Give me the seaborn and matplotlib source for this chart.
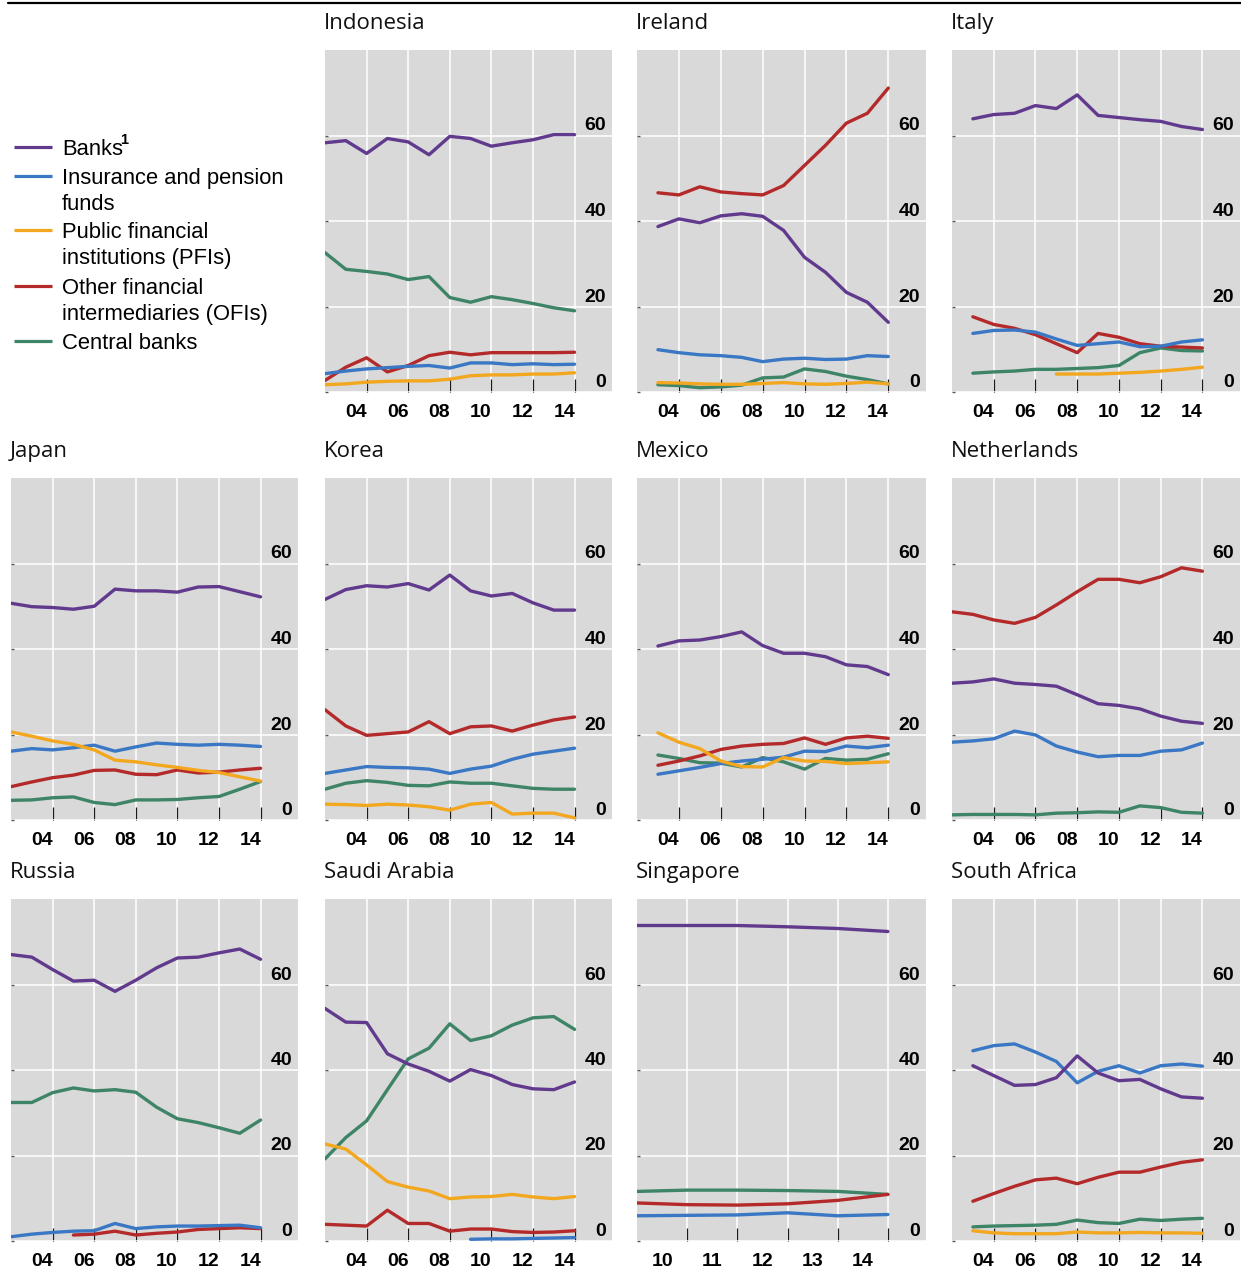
import matplotlib
matplotlib.use("Agg")
import matplotlib.pyplot as plt
import matplotlib.transforms as mtransforms
from matplotlib.lines import Line2D
import pandas as pd
import seaborn as sns

# ---------------------------------------------------------------------------
# Sector names and colours
# ---------------------------------------------------------------------------
BANKS = "Banks"
INS = "Insurance and pension funds"
PFI = "Public financial institutions (PFIs)"
OFI = "Other financial intermediaries (OFIs)"
CB = "Central banks"

PALETTE = {
    BANKS: "#613A8E",
    INS: "#3A77C4",
    PFI: "#F2A71E",
    OFI: "#B42A2A",
    CB: "#3E8466",
}

# ---------------------------------------------------------------------------
# Shares of total financial assets, in per cent (year-end)
# ---------------------------------------------------------------------------
YEARS_02 = list(range(2002, 2015))
YEARS_03 = list(range(2003, 2015))
YEARS_09 = list(range(2009, 2015))

indonesia = {
    BANKS: [58.3, 58.8, 55.8, 59.3, 58.5, 55.5, 59.8, 59.3, 57.5, 58.3, 59.0, 60.2, 60.2],
    INS:   [4.3, 4.9, 5.4, 5.7, 6.0, 6.2, 5.6, 6.8, 6.8, 6.4, 6.6, 6.4, 6.5],
    PFI:   [1.7, 1.9, 2.3, 2.5, 2.6, 2.6, 3.0, 3.8, 4.0, 4.0, 4.2, 4.2, 4.5],
    OFI:   [2.7, 5.8, 8.0, 4.7, 6.2, 8.5, 9.3, 8.7, 9.2, 9.2, 9.2, 9.2, 9.3],
    CB:    [32.6, 28.7, 28.2, 27.6, 26.3, 27.0, 22.1, 21.0, 22.3, 21.6, 20.7, 19.7, 19.0],
}

ireland = {
    BANKS: [38.7, 40.5, 39.6, 41.2, 41.7, 41.1, 37.8, 31.5, 28.0, 23.3, 21.0, 16.3],
    INS:   [9.9, 9.2, 8.7, 8.5, 8.1, 7.1, 7.7, 7.9, 7.6, 7.7, 8.5, 8.3],
    PFI:   [2.2, 2.1, 1.9, 1.8, 1.8, 2.0, 2.2, 1.9, 1.8, 2.0, 2.3, 1.9],
    OFI:   [46.6, 46.1, 48.0, 46.8, 46.4, 46.1, 48.3, 53.0, 57.7, 62.9, 65.2, 71.1],
    CB:    [1.7, 1.5, 1.0, 1.2, 1.6, 3.3, 3.5, 5.4, 4.8, 3.7, 2.9, 1.9],
}

italy = {
    BANKS: [63.9, 64.9, 65.2, 67.0, 66.3, 69.5, 64.7, 64.2, 63.7, 63.3, 62.1, 61.4],
    INS:   [13.7, 14.4, 14.5, 14.0, 12.4, 10.9, 11.3, 11.7, 10.6, 10.7, 11.7, 12.2],
    PFI:   [None, None, None, None, 4.2, 4.2, 4.2, 4.4, 4.6, 4.9, 5.3, 5.8],
    OFI:   [17.6, 15.8, 14.9, 13.4, 11.3, 9.2, 13.7, 12.8, 11.3, 10.7, 10.5, 10.3],
    CB:    [4.4, 4.7, 4.9, 5.3, 5.3, 5.5, 5.7, 6.2, 9.2, 10.3, 9.7, 9.6],
}

japan = {
    BANKS: [50.7, 49.9, 49.7, 49.3, 50.0, 54.0, 53.6, 53.6, 53.3, 54.5, 54.6, 53.4, 52.2],
    INS:   [16.1, 16.7, 16.4, 16.9, 17.5, 16.1, 17.1, 18.0, 17.7, 17.5, 17.7, 17.5, 17.2],
    PFI:   [20.6, 19.6, 18.5, 17.7, 16.4, 14.0, 13.6, 12.9, 12.3, 11.6, 11.1, 10.1, 9.1],
    OFI:   [7.8, 8.9, 9.9, 10.5, 11.6, 11.7, 10.7, 10.6, 11.7, 11.0, 11.2, 11.7, 12.1],
    CB:    [4.6, 4.7, 5.2, 5.4, 4.1, 3.6, 4.7, 4.7, 4.8, 5.2, 5.5, 7.2, 9.0],
}

korea = {
    BANKS: [51.6, 53.9, 54.8, 54.5, 55.3, 53.8, 57.3, 53.6, 52.4, 53.0, 50.8, 49.1, 49.1],
    INS:   [10.9, 11.7, 12.5, 12.3, 12.2, 11.9, 10.9, 11.9, 12.6, 14.2, 15.4, 16.1, 16.8],
    PFI:   [3.7, 3.6, 3.4, 3.7, 3.5, 3.1, 2.3, 3.7, 4.1, 1.4, 1.6, 1.6, 0.5],
    OFI:   [25.8, 22.0, 19.8, 20.2, 20.6, 23.0, 20.2, 21.8, 22.0, 20.8, 22.2, 23.4, 24.1],
    CB:    [7.2, 8.6, 9.2, 8.8, 8.1, 8.0, 8.9, 8.6, 8.6, 8.0, 7.4, 7.2, 7.2],
}

mexico = {
    BANKS: [40.7, 41.9, 42.1, 42.9, 44.0, 40.8, 39.0, 39.0, 38.2, 36.3, 35.9, 34.0],
    INS:   [10.7, 11.5, 12.3, 13.2, 13.8, 14.2, 14.7, 16.1, 16.0, 17.3, 16.9, 17.5],
    PFI:   [20.4, 18.2, 16.7, 13.8, 12.5, 12.4, 14.6, 13.8, 13.7, 13.2, 13.4, 13.6],
    OFI:   [12.8, 13.8, 15.0, 16.5, 17.3, 17.7, 17.9, 19.2, 17.7, 19.2, 19.6, 19.1],
    CB:    [15.2, 14.4, 13.4, 13.3, 12.4, 14.6, 13.6, 11.9, 14.4, 14.0, 14.2, 15.5],
}

netherlands = {
    BANKS: [32.0, 32.3, 33.0, 32.0, 31.7, 31.3, 29.3, 27.2, 26.8, 26.0, 24.3, 23.1, 22.6],
    INS:   [18.2, 18.5, 19.0, 20.8, 19.9, 17.3, 15.9, 14.8, 15.1, 15.1, 16.1, 16.4, 18.0],
    OFI:   [48.7, 48.1, 46.8, 46.0, 47.4, 50.3, 53.4, 56.3, 56.3, 55.5, 56.9, 59.0, 58.2],
    CB:    [1.2, 1.3, 1.3, 1.3, 1.2, 1.6, 1.7, 1.9, 1.8, 3.3, 2.9, 1.8, 1.6],
}

russia = {
    BANKS: [67.0, 66.4, 63.5, 60.8, 61.0, 58.4, 61.0, 63.9, 66.2, 66.4, 67.4, 68.3, 65.9],
    INS:   [1.0, 1.6, 2.0, 2.3, 2.4, 4.1, 2.9, 3.3, 3.5, 3.5, 3.6, 3.7, 3.1],
    OFI:   [None, None, None, 1.4, 1.6, 2.3, 1.4, 1.8, 2.1, 2.7, 2.9, 3.1, 2.9],
    CB:    [32.4, 32.4, 34.7, 35.8, 35.1, 35.4, 34.8, 31.3, 28.6, 27.7, 26.5, 25.2, 28.3],
}

saudi_arabia = {
    BANKS: [54.4, 51.2, 51.1, 43.8, 41.4, 39.7, 37.4, 40.1, 38.7, 36.6, 35.6, 35.4, 37.2],
    INS:   [None, None, None, None, None, None, None, 0.4, 0.5, 0.5, 0.6, 0.7, 0.8],
    PFI:   [22.7, 21.5, 17.8, 13.9, 12.6, 11.7, 9.9, 10.3, 10.4, 10.9, 10.3, 9.9, 10.4],
    OFI:   [3.9, 3.7, 3.5, 7.2, 4.1, 4.1, 2.3, 2.8, 2.8, 2.2, 2.0, 2.1, 2.4],
    CB:    [19.2, 24.2, 28.1, 35.4, 42.6, 45.1, 50.8, 46.9, 48.0, 50.5, 52.2, 52.5, 49.5],
}

singapore = {
    BANKS: [73.8, 73.8, 73.8, 73.5, 73.1, 72.4],
    INS:   [5.9, 6.0, 6.1, 6.6, 5.9, 6.2],
    OFI:   [8.9, 8.5, 8.4, 8.7, 9.5, 10.9],
    CB:    [11.6, 11.9, 11.9, 11.8, 11.6, 10.9],
}

south_africa = {
    BANKS: [41.0, 38.7, 36.4, 36.6, 38.2, 43.3, 39.3, 37.5, 37.8, 35.6, 33.7, 33.4],
    INS:   [44.5, 45.7, 46.1, 44.2, 42.0, 37.0, 39.7, 41.0, 39.3, 41.0, 41.4, 40.9],
    PFI:   [2.4, 1.9, 1.7, 1.7, 1.7, 2.1, 1.9, 1.9, 2.0, 1.9, 1.9, 1.8],
    OFI:   [9.3, 11.1, 12.8, 14.3, 14.7, 13.4, 14.9, 16.1, 16.1, 17.3, 18.4, 19.0],
    CB:    [3.3, 3.5, 3.6, 3.7, 3.9, 4.9, 4.3, 4.1, 5.1, 4.8, 5.1, 5.3],
}

# (title, years, series, grid row, grid column)
PANELS = [
    ("Indonesia", YEARS_02, indonesia, 0, 1),
    ("Ireland", YEARS_03, ireland, 0, 2),
    ("Italy", YEARS_03, italy, 0, 3),
    ("Japan", YEARS_02, japan, 1, 0),
    ("Korea", YEARS_02, korea, 1, 1),
    ("Mexico", YEARS_03, mexico, 1, 2),
    ("Netherlands", YEARS_02, netherlands, 1, 3),
    ("Russia", YEARS_02, russia, 2, 0),
    ("Saudi Arabia", YEARS_02, saudi_arabia, 2, 1),
    ("Singapore", YEARS_09, singapore, 2, 2),
    ("South Africa", YEARS_03, south_africa, 2, 3),
]

Y_TICKS = [0, 20, 40, 60]

# ---------------------------------------------------------------------------
# Style
# ---------------------------------------------------------------------------
sns.set_style("darkgrid", {"axes.facecolor": "#D9D9D9", "grid.color": "white"})
plt.rcParams["font.family"] = ["Liberation Sans", "DejaVu Sans"]

W, H = 1241, 1273
fig = plt.figure(figsize=(W / 100, H / 100), dpi=100)
fig.patch.set_facecolor("white")

COL_X = [11, 325, 637, 952]
COL_W = [287, 287, 289, 288]
ROW_Y = [50, 478, 899]
ROW_H = 342

DRAW_ORDER = [CB, OFI, INS, BANKS, PFI]


def long_frame(years, series):
    rows = []
    for sector, values in series.items():
        for yr, v in zip(years, values):
            if v is not None:
                rows.append({"year": yr, "share": v, "sector": sector})
    return pd.DataFrame(rows)


for title, years, series, r, c in PANELS:
    ax = fig.add_axes([COL_X[c] / W, 1 - (ROW_Y[r] + ROW_H) / H,
                       COL_W[c] / W, ROW_H / H])
    df = long_frame(years, series)
    order = [s for s in DRAW_ORDER if s in series]
    sns.lineplot(data=df, x="year", y="share", hue="sector", hue_order=order,
                 palette=PALETTE, estimator=None, linewidth=2.4,
                 legend=False, ax=ax)

    if years[0] >= 2009:
        ax.set_xlim(2009, 2014.76)
        major = list(range(2010, 2015))
    else:
        ax.set_xlim(2002, 2015.8)
        major = list(range(2004, 2015, 2))
    ax.set_ylim(0, 80)

    ax.set_xlabel("")
    ax.set_ylabel("")
    for sp in ax.spines.values():
        sp.set_visible(False)

    # year ticks on the boundaries, labels centred in between
    ax.set_xticks(major)
    ax.set_xticks([m - 0.5 for m in major],
                  labels=[f"{m % 100:02d}" for m in major],
                  minor=True, fontweight="bold", fontsize=14)
    ax.tick_params(axis="x", which="major", bottom=True, direction="in",
                   length=9.4, width=0.9, color="#1a1a1a", labelbottom=False)
    ax.tick_params(axis="x", which="minor", bottom=True, length=0, pad=8.6,
                   labelbottom=True, labelcolor="black")
    ax.grid(True, which="major", color="white", linewidth=1.1)
    ax.grid(False, which="minor")

    # value scale: short marks on the left, numbers inside on the right
    ax.set_yticks(Y_TICKS, labels=[])
    ax.tick_params(axis="y", left=True, right=False, labelleft=False,
                   direction="in", length=2, width=1, color="#555555")
    scale_tf = mtransforms.offset_copy(
        mtransforms.blended_transform_factory(ax.transAxes, ax.transData),
        fig=fig, x=-6, y=5, units="dots")
    for v in Y_TICKS:
        ax.text(1, v, str(v), transform=scale_tf, ha="right", va="baseline",
                fontsize=14, fontweight="bold", color="black")

    ax.text(0, 1, title,
            transform=mtransforms.offset_copy(ax.transAxes, fig=fig, x=-1, y=21, units="dots"),
            ha="left", va="baseline", fontsize=16, family=["Open Sans", "DejaVu Sans"],
            color="#111111")

# rule across the top
fig.add_artist(Line2D([8 / W, 1.0], [1 - 2.5 / H, 1 - 2.5 / H],
                      color="black", linewidth=1.6))

# ---------------------------------------------------------------------------
# Legend (handle aligned with the first line of each entry)
# ---------------------------------------------------------------------------
LEGEND = [
    (BANKS, ["Banks"], 146.7),
    (INS, ["Insurance and pension", "funds"], 175.7),
    (PFI, ["Public financial", "institutions (PFIs)"], 230.0),
    (OFI, ["Other financial", "intermediaries (OFIs)"], 285.7),
    (CB, ["Central banks"], 341.0),
]
LEG_FS = 15.8
for sector, lines, yc in LEGEND:
    fig.add_artist(Line2D([14 / W, 52 / W], [1 - yc / H, 1 - yc / H],
                          color=PALETTE[sector], linewidth=2.3,
                          solid_capstyle="butt"))
    for i, txt in enumerate(lines):
        yb = yc + 7.9 + 26 * i
        fig.text(62 / W, 1 - yb / H, txt, ha="left", va="baseline",
                 fontsize=LEG_FS, color="black")
        if sector == BANKS:
            fig.text(0, 0, "1", fontsize=10.5, fontweight="bold", color="black",
                     ha="left", va="baseline",
                     transform=mtransforms.offset_copy(
                         fig.transFigure, fig=fig, x=62 + 58.5, y=H - yb + 11,
                         units="dots"))

fig.savefig("out.png", dpi=100)
